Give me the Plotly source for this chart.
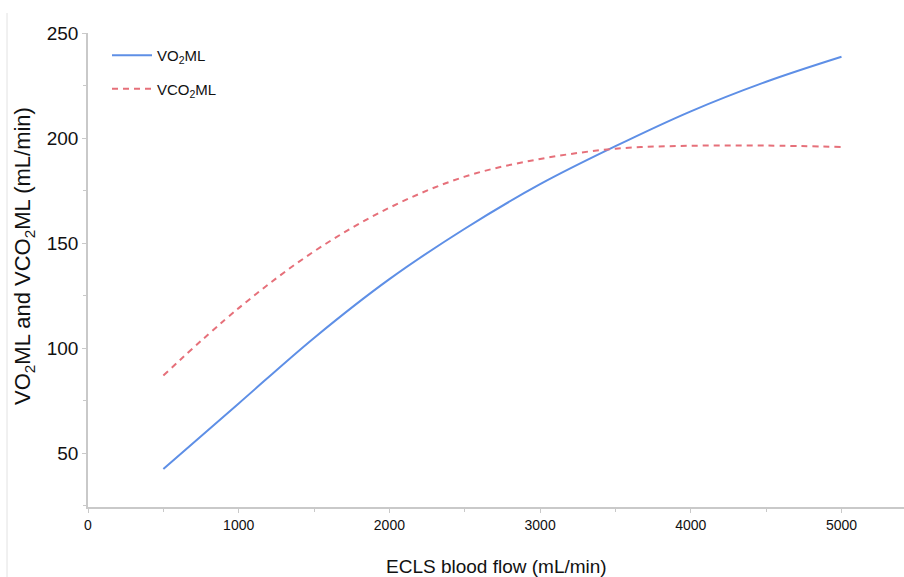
import plotly.graph_objects as go

flow = [500, 1000, 1500, 2000, 2500, 3000, 3500, 4000, 4500, 5000]
vo2ml = [42.4, 73.6, 104.8, 132.8, 156.8, 178.0, 196.1, 212.7, 226.8, 238.7]
vco2ml = [86.9, 119.0, 146.0, 166.8, 181.6, 190.0, 194.9, 196.3, 196.4, 195.7]

x_ticks = [0, 1000, 2000, 3000, 4000, 5000]
y_ticks = [50, 100, 150, 200, 250]

W, H = 904, 577
L, R, T, B = 88, 0, 33, 70
pw = W - L - R
ph = H - T - B

def px_x(p):
    return (p - L) / pw

def px_y(p):
    return (H - B - p) / ph

fig = go.Figure()
fig.add_trace(go.Scatter(
    x=flow, y=vo2ml, mode="lines", name="VO<sub>2</sub>ML",
    line=dict(color="#5E8FE6", width=2, shape="spline"),
    legendgroup="a",
))
fig.add_trace(go.Scatter(
    x=flow, y=vco2ml, mode="lines", name="VCO<sub>2</sub>ML",
    line=dict(color="#E6707A", width=2, dash="6px,5px", shape="spline"),
    legendgroup="b",
))

axis_col = "#C9C9C9"
fig.update_layout(
    width=W, height=H,
    margin=dict(l=L, r=R, t=T, b=B, autoexpand=False),
    plot_bgcolor="white", paper_bgcolor="white",
    font=dict(family="Liberation Sans, Arial, sans-serif", color="#111111"),
    showlegend=True,
    legend=dict(
        x=px_x(107), y=px_y(39), xanchor="left", yanchor="top",
        font=dict(size=15, color="#111111"),
        bgcolor="rgba(0,0,0,0)",
        tracegroupgap=11,
        traceorder="grouped",
        itemwidth=40,
    ),
    xaxis=dict(
        range=[0, (W - L - R) / 150.7 * 1000],
        tickvals=x_ticks, ticktext=[str(v) for v in x_ticks],
        tickfont=dict(size=14),
        showgrid=False, zeroline=False, automargin=False,
        showline=True, linecolor=axis_col, linewidth=1.5,
        ticks="outside", ticklen=4, tickcolor=axis_col, tickwidth=1,
        minor=dict(dtick=500, ticks="outside", ticklen=3, tickcolor=axis_col, showgrid=False),
    ),
    yaxis=dict(
        range=[24.3, 250],
        tickvals=y_ticks, ticktext=[str(v) for v in y_ticks],
        tickfont=dict(size=19),
        showgrid=False, zeroline=False, automargin=False,
        showline=True, linecolor=axis_col, linewidth=1.5,
        ticks="outside", ticklen=4, tickcolor=axis_col, tickwidth=1,
        minor=dict(dtick=25, ticks="outside", ticklen=3, tickcolor=axis_col, showgrid=False),
    ),
    annotations=[
        dict(text="ECLS blood flow (mL/min)", xref="paper", yref="paper",
             x=0.5, y=px_y(566), xanchor="center", yanchor="middle",
             showarrow=False, font=dict(size=19, color="#111111")),
        dict(text="VO<sub>2</sub>ML and VCO<sub>2</sub>ML (mL/min)", xref="paper", yref="paper",
             x=px_x(24), y=px_y(256), xanchor="center", yanchor="middle",
             textangle=-90, showarrow=False, font=dict(size=22, color="#111111")),
    ],
    shapes=[
        dict(type="line", xref="paper", yref="paper",
             x0=px_x(7), x1=px_x(7), y0=px_y(577), y1=px_y(13),
             line=dict(color="#E2E2E2", width=1)),
    ],
)

fig.write_html(
    "out.html",
    config={"displayModeBar": False},
    post_script="document.body.style.margin='0';document.body.style.overflow='hidden';",
)
